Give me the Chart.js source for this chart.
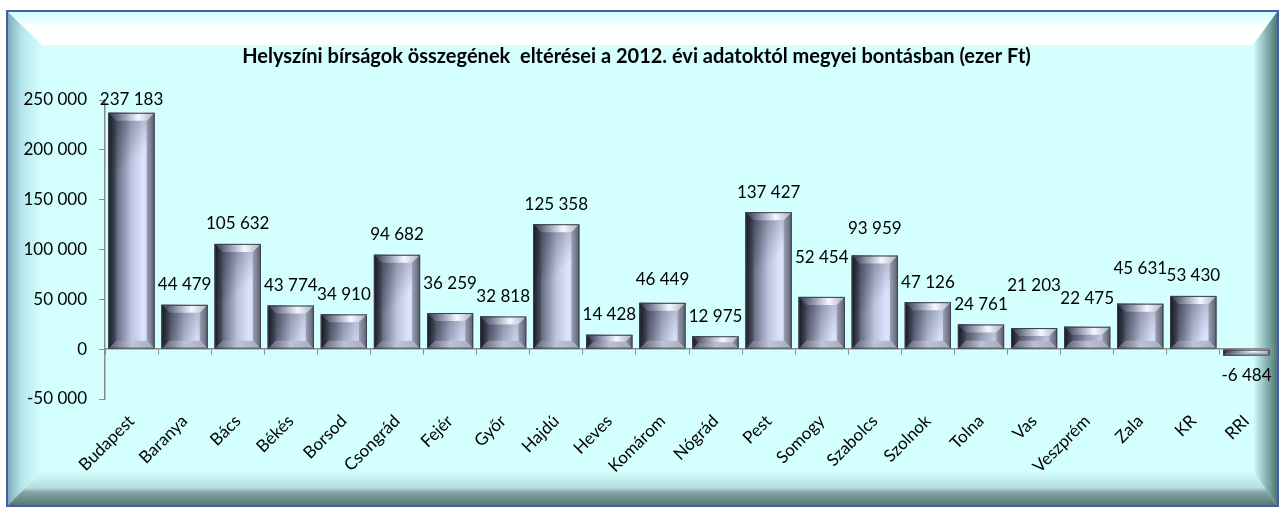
<!DOCTYPE html>
<html>
<head>
<meta charset="utf-8">
<script src="https://cdn.jsdelivr.net/npm/chart.js@4"></script>
<style>
  html, body { margin: 0; padding: 0; background: #fff; }
  canvas { display: block; }
</style>
</head>
<body>
<canvas id="chart" width="1280" height="508"></canvas>
<script>
// data
const counties = ["Budapest", "Baranya", "Bács", "Békés", "Borsod", "Csongrád", "Fejér", "Győr", "Hajdú", "Heves",
  "Komárom", "Nógrád", "Pest", "Somogy", "Szabolcs", "Szolnok", "Tolna", "Vas", "Veszprém", "Zala", "KR", "RRI"];
const differences = [237183, 44479, 105632, 43774, 34910, 94682, 36259, 32818, 125358, 14428,
  46449, 12975, 137427, 52454, 93959, 47126, 24761, 21203, 22475, 45631, 53430, -6484];
const yTicks = [-50000, 0, 50000, 100000, 150000, 200000, 250000];

const titleText = "Helyszíni bírságok összegének  eltérései a 2012. évi adatoktól megyei bontásban (ezer Ft)";
const FONT = "Lato, 'Open Sans', sans-serif";

// 237183 -> "237 183"
function fmt(v) {
  const s = Math.abs(v).toString().replace(/\B(?=(\d{3})+(?!\d))/g, " ");
  return (v < 0 ? "-" : "") + s;
}

// cyan panel with bevelled frame
const framePlugin = {
  id: "frame",
  beforeDraw(chart) {
    const ctx = chart.ctx;
    const x0 = 8, y0 = 12, x1 = 1277, y1 = 505;
    const L = 42, T = 45, R = 1253, B = 471;
    ctx.save();
    ctx.fillStyle = "#ffffff";
    ctx.fillRect(0, 0, chart.width, chart.height);
    ctx.fillStyle = "#d4ffff";
    ctx.fillRect(x0, y0, x1 - x0, y1 - y0);

    let g = ctx.createLinearGradient(0, y0, 0, T);
    g.addColorStop(0, "#cdfdfd");
    g.addColorStop(0.45, "#ffffff");
    g.addColorStop(1, "#ffffff");
    ctx.fillStyle = g;
    ctx.beginPath();
    ctx.moveTo(x0, y0); ctx.lineTo(x1, y0); ctx.lineTo(R, T); ctx.lineTo(L, T); ctx.closePath();
    ctx.fill();

    g = ctx.createLinearGradient(x0, 0, L, 0);
    g.addColorStop(0, "#80acb8");
    g.addColorStop(0.4, "#b6e6ec");
    g.addColorStop(1, "#d4ffff");
    ctx.fillStyle = g;
    ctx.beginPath();
    ctx.moveTo(x0, y0); ctx.lineTo(L, T); ctx.lineTo(L, B); ctx.lineTo(x0, y1); ctx.closePath();
    ctx.fill();

    g = ctx.createLinearGradient(R, 0, x1, 0);
    g.addColorStop(0, "#d4ffff");
    g.addColorStop(1, "#4d7878");
    ctx.fillStyle = g;
    ctx.beginPath();
    ctx.moveTo(x1, y0); ctx.lineTo(x1, y1); ctx.lineTo(R, B); ctx.lineTo(R, T); ctx.closePath();
    ctx.fill();

    g = ctx.createLinearGradient(0, B, 0, y1);
    g.addColorStop(0, "#d4ffff");
    g.addColorStop(0.5, "#b4dcdc");
    g.addColorStop(0.62, "#84a6a6");
    g.addColorStop(1, "#587878");
    ctx.fillStyle = g;
    ctx.beginPath();
    ctx.moveTo(x0, y1); ctx.lineTo(L, B); ctx.lineTo(R, B); ctx.lineTo(x1, y1); ctx.closePath();
    ctx.fill();

    ctx.strokeStyle = "#4a5ca8";
    ctx.lineWidth = 2;
    ctx.strokeRect(7, 11, 1271, 495);
    ctx.restore();
  }
};

// metallic bevelled bars + value labels
const barPlugin = {
  id: "bevelBars",
  afterDatasetsDraw(chart, args, opts) {
    const ctx = chart.ctx;
    const meta = chart.getDatasetMeta(0);
    const values = chart.data.datasets[0].data;
    ctx.save();
    meta.data.forEach((bar, i) => {
      const p = bar.getProps(["x", "y", "base", "width"], true);
      const left = p.x - p.width / 2, right = p.x + p.width / 2;
      const top = Math.min(p.y, p.base), bottom = Math.max(p.y, p.base);
      const h = bottom - top;
      const b = Math.min(8, h / 2, p.width / 2);

      // face
      let g = ctx.createLinearGradient(left, 0, right, 0);
      g.addColorStop(0, "#2a2e3a");
      g.addColorStop(0.2, "#6c7288");
      g.addColorStop(0.5, "#bcc4e0");
      g.addColorStop(0.75, "#dce4fd");
      g.addColorStop(1, "#c8d0ec");
      ctx.fillStyle = g;
      ctx.fillRect(left, top, p.width, h);

      // darker top-left corner of the face
      g = ctx.createLinearGradient(left, top, left + p.width * 0.8, top + p.width * 0.8);
      g.addColorStop(0, "rgba(20,24,36,0.45)");
      g.addColorStop(1, "rgba(20,24,36,0)");
      ctx.fillStyle = g;
      ctx.fillRect(left, top, p.width, Math.min(h, p.width * 1.2));

      // top bevel
      g = ctx.createLinearGradient(left, 0, right, 0);
      g.addColorStop(0, "#2c303e");
      g.addColorStop(0.3, "#8a91a8");
      g.addColorStop(0.65, "#f6f8ff");
      g.addColorStop(1, "#a8adbe");
      ctx.fillStyle = g;
      ctx.beginPath();
      ctx.moveTo(left, top); ctx.lineTo(right, top); ctx.lineTo(right - b, top + b); ctx.lineTo(left + b, top + b); ctx.closePath();
      ctx.fill();

      // left bevel
      g = ctx.createLinearGradient(left, 0, left + b, 0);
      g.addColorStop(0, "rgba(16,18,26,0.75)");
      g.addColorStop(1, "rgba(60,64,80,0.45)");
      ctx.fillStyle = g;
      ctx.beginPath();
      ctx.moveTo(left, top); ctx.lineTo(left + b, top + b); ctx.lineTo(left + b, bottom - b); ctx.lineTo(left, bottom); ctx.closePath();
      ctx.fill();

      // right bevel
      g = ctx.createLinearGradient(right - b, 0, right, 0);
      g.addColorStop(0, "rgba(150,156,176,0.9)");
      g.addColorStop(1, "rgba(80,84,98,0.9)");
      ctx.fillStyle = g;
      ctx.beginPath();
      ctx.moveTo(right, top); ctx.lineTo(right, bottom); ctx.lineTo(right - b, bottom - b); ctx.lineTo(right - b, top + b); ctx.closePath();
      ctx.fill();

      // bottom bevel
      g = ctx.createLinearGradient(left, 0, right, 0);
      g.addColorStop(0, "rgba(90,96,112,0.9)");
      g.addColorStop(0.5, "rgba(190,196,212,0.9)");
      g.addColorStop(1, "rgba(160,165,180,0.9)");
      ctx.fillStyle = g;
      ctx.beginPath();
      ctx.moveTo(left, bottom); ctx.lineTo(left + b, bottom - b); ctx.lineTo(right - b, bottom - b); ctx.lineTo(right, bottom); ctx.closePath();
      ctx.fill();

      ctx.strokeStyle = "#3c3f4a";
      ctx.lineWidth = 1;
      ctx.strokeRect(left + 0.5, top + 0.5, p.width - 1, h - 1);

      // value label
      const v = values[i];
      const lift = opts.gap + (opts.extraLift[i] || 0);
      ctx.fillStyle = "#000";
      ctx.font = "17px " + FONT;
      ctx.textAlign = "center";
      ctx.textBaseline = "middle";
      ctx.fillText(fmt(v), p.x, v >= 0 ? top - lift : bottom + lift);
    });
    ctx.restore();
  }
};

new Chart(document.getElementById("chart"), {
  type: "bar",
  data: {
    labels: counties,
    datasets: [{
      data: differences,
      backgroundColor: "#b8c0d8",
      borderWidth: 0,
      barPercentage: 0.87,
      categoryPercentage: 1.0
    }]
  },
  options: {
    responsive: false,
    animation: false,
    layout: { padding: { left: 0, right: 7, top: 0, bottom: 0 } },
    plugins: {
      legend: { display: false },
      tooltip: { enabled: false },
      title: {
        display: true,
        text: titleText,
        color: "#000",
        font: { family: FONT, size: 20, weight: "bold", lineHeight: 1.2 },
        padding: { top: 45, bottom: 31 }
      },
      bevelBars: {
        gap: 20,
        extraLift: { 0: -7, 6: 10, 10: 3, 13: 19, 14: 7, 17: 23, 18: 8, 19: 15 }
      }
    },
    scales: {
      x: {
        type: "category",
        position: "bottom",
        grid: { display: false },
        border: { display: false },
        ticks: {
          autoSkip: false,
          minRotation: 45,
          maxRotation: 45,
          padding: 4,
          color: "#000",
          font: { family: FONT, size: 17 }
        },
        afterFit(scale) { scale.height = 109; }
      },
      x0: {
        type: "category",
        position: { y: 0 },
        offset: true,
        grid: { display: true, drawOnChartArea: false, drawTicks: true, tickLength: 5, color: "#8a8a8a", offset: true },
        border: { display: true, color: "#8a8a8a", width: 1.5 },
        ticks: { display: false }
      },
      y: {
        min: -50000,
        max: 250000,
        afterBuildTicks(scale) { scale.ticks = yTicks.map(v => ({ value: v })); },
        grid: { display: true, drawOnChartArea: false, drawTicks: true, tickLength: 6, color: "#8a8a8a" },
        border: { display: true, color: "#8a8a8a", width: 1.5 },
        ticks: {
          padding: 12,
          color: "#000",
          font: { family: FONT, size: 17 },
          callback: (v) => fmt(v)
        },
        afterFit(scale) { scale.width = 105; }
      }
    }
  },
  plugins: [framePlugin, barPlugin]
});
</script>
</body>
</html>
